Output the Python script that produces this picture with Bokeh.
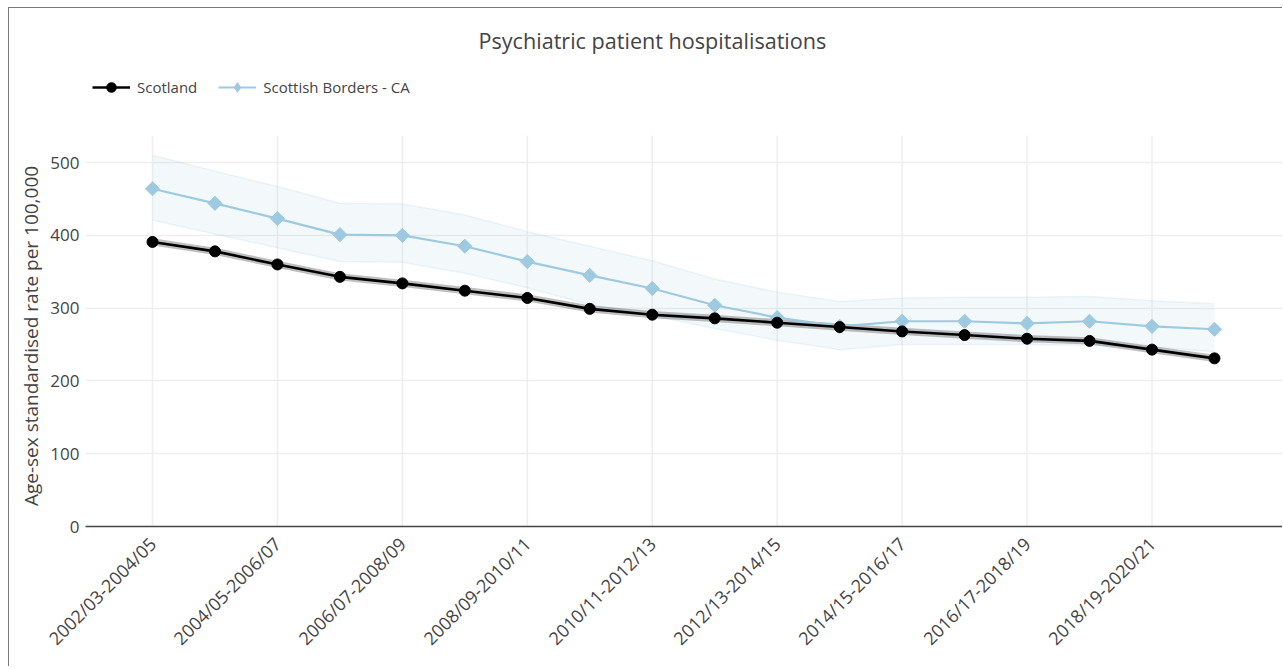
import math
from bokeh.plotting import figure
from bokeh.models import Range1d, FixedTicker, Legend, LegendItem, ColumnDataSource
from bokeh.embed import file_html
from bokeh.resources import INLINE

periods = ["2002/03-2004/05", "2003/04-2005/06", "2004/05-2006/07", "2005/06-2007/08",
           "2006/07-2008/09", "2007/08-2009/10", "2008/09-2010/11", "2009/10-2011/12",
           "2010/11-2012/13", "2011/12-2013/14", "2012/13-2014/15", "2013/14-2015/16",
           "2014/15-2016/17", "2015/16-2017/18", "2016/17-2018/19", "2017/18-2019/20",
           "2018/19-2020/21", "2019/20-2021/22"]

scotland = [391, 378, 360, 343, 334, 324, 314, 299, 291, 286, 280, 274, 268, 263, 258, 255, 243, 231]
scotland_upper = [396, 383, 365, 348, 339, 329, 319, 304, 296, 291, 285, 279, 273, 268, 263, 260, 248, 236]
scotland_lower = [386, 373, 355, 338, 329, 319, 309, 294, 286, 281, 275, 269, 263, 258, 253, 250, 238, 226]

borders = [464, 444, 423, 401, 400, 385, 364, 345, 327, 304, 287, 275, 282, 282, 279, 282, 275, 271]
borders_upper = [510, 488, 467, 444, 443, 428, 405, 385, 365, 340, 322, 309, 314, 315, 315, 316, 310, 306]
borders_lower = [421, 402, 383, 364, 363, 348, 328, 305, 290, 272, 256, 243, 250, 250, 250, 249, 247, 240]

y_ticks = [0, 100, 200, 300, 400, 500]

idx = list(range(len(periods)))
label_idx = idx[::2]
src = ColumnDataSource(dict(x=idx, s=scotland, su=scotland_upper, sl=scotland_lower,
                            b=borders, bu=borders_upper, bl=borders_lower))

FONT = "Open Sans"
TXT = "#444444"
Y_TOP_GRID = 537

p = figure(width=1274, height=659, output_backend="svg", toolbar_location=None,
           x_range=Range1d(-1.0725, 18.105), y_range=Range1d(0, 632),
           min_border_left=76, min_border_right=0, min_border_top=58, min_border_bottom=141)
p.styles = {"border-left": "1px solid #7a7a7a", "border-top": "1px solid #7a7a7a",
            "margin-left": "8px", "margin-top": "7px"}
p.outline_line_color = None
p.background_fill_color = "white"
p.border_fill_color = "white"

# vertical grid lines (only up to the top of the plotting region, legend sits above)
p.xgrid.grid_line_color = None
p.segment(x0=label_idx, x1=label_idx, y0=[0] * len(label_idx), y1=[Y_TOP_GRID] * len(label_idx),
          line_color="#eeeeee", line_width=1.5)
p.ygrid.grid_line_color = "#eeeeee"
p.ygrid.grid_line_width = 1.5

# bands
p.varea(x="x", y1="bl", y2="bu", source=src, fill_color="#9ecae1", fill_alpha=0.12)
p.line(x="x", y="bu", source=src, line_color="#9ecae1", line_alpha=0.18, line_width=1.5)
p.line(x="x", y="bl", source=src, line_color="#9ecae1", line_alpha=0.18, line_width=1.5)
p.varea(x="x", y1="sl", y2="su", source=src, fill_color="#000000", fill_alpha=0.25)

# lines
bl_ = p.line(x="x", y="b", source=src, line_color="#9ecae1", line_width=2.2)
# small diamond hidden under the wide diamond, used for the legend glyph
leg_d = p.scatter(x="x", y="b", source=src, marker="diamond", size=8, fill_color="#9ecae1",
                  line_color="#9ecae1")
bm = p.scatter(x="x", y="b", source=src, marker="square", angle=math.pi / 4, size=10,
               fill_color="#9ecae1", line_color="#9ecae1")
sl = p.line(x="x", y="s", source=src, line_color="#000000", line_width=2.6)
sm = p.scatter(x="x", y="s", source=src, marker="circle", size=11, fill_color="#000000",
               line_color="#000000")

# axes
p.xaxis.ticker = FixedTicker(ticks=label_idx)
p.xaxis.major_label_overrides = {i: periods[i] for i in idx}
p.xaxis.major_label_orientation = math.pi / 4
p.xaxis.major_label_text_font = FONT
p.xaxis.major_label_text_font_size = "18px"
p.xaxis.major_label_text_color = TXT
p.xaxis.axis_line_color = "#444444"
p.xaxis.axis_line_width = 1.5
p.xaxis.major_tick_line_color = None
p.xaxis.minor_tick_line_color = None
p.xaxis.major_label_standoff = 8

p.yaxis.ticker = FixedTicker(ticks=y_ticks)
p.yaxis.axis_line_color = None
p.yaxis.major_tick_line_color = None
p.yaxis.minor_tick_line_color = None
p.yaxis.major_label_text_font = FONT
p.yaxis.major_label_text_font_size = "17px"
p.yaxis.major_label_text_color = TXT
p.yaxis.major_label_standoff = 0
# trailing no-break spaces shift the centred label down to sit beside the 0-500 region
p.yaxis.axis_label = "Age-sex standardised rate per 100,000" + "\u00a0" * 16
p.yaxis.axis_label_text_font = FONT
p.yaxis.axis_label_text_font_style = "normal"
p.yaxis.axis_label_text_font_size = "19px"
p.yaxis.axis_label_text_color = TXT
p.yaxis.axis_label_standoff = 3

legend = Legend(items=[LegendItem(label="Scotland", renderers=[sl, sm]),
                       LegendItem(label="Scottish Borders - CA", renderers=[bl_, leg_d])],
                orientation="horizontal", location=(7, 427),
                label_text_font=FONT, label_text_font_size="15px", label_text_color=TXT,
                glyph_width=38, glyph_height=24, label_standoff=7, spacing=21,
                padding=0, margin=0, border_line_color=None, background_fill_alpha=0)
p.add_layout(legend)

p.title.text = "Psychiatric patient hospitalisations"
p.title.align = "left"
p.title.offset = 393
p.title.text_font = FONT
p.title.text_font_size = "21.6px"
p.title.text_font_style = "normal"
p.title.text_color = TXT
p.title.standoff = 24

open("out.html", "w").write(file_html(p, INLINE))
